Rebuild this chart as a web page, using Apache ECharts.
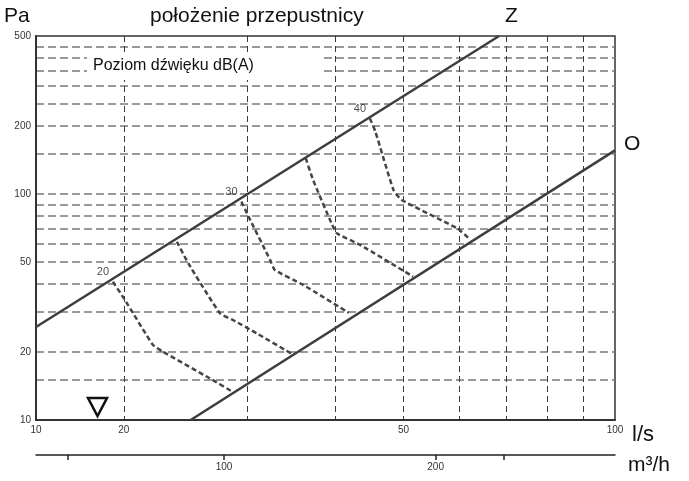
<!DOCTYPE html>
<html>
<head>
<meta charset="utf-8">
<script src="https://cdn.jsdelivr.net/npm/echarts@6/dist/echarts.min.js"></script>
<style>
html, body { margin: 0; padding: 0; background: #fff; }
#main { width: 689px; height: 481px; }
</style>
</head>
<body>
<div id="main"></div>
<script>
// axes (flow in l/s, pressure in Pa, second flow scale in m3/h)
var flowLabels = [15, 20, 50, 100];
var flowGrid = [20, 30, 40, 50, 60, 70, 80, 90];
var paLabels = [10, 20, 50, 100, 200, 500];
var paGrid = [15, 20, 30, 40, 50, 60, 70, 80, 90, 100, 150, 200, 250, 300, 350, 400, 450];
var m3hLabels = [100, 200];
var m3hTicks = [60, 100, 200, 250];

// damper positions: Z (closed) and O (open)
var lineZ = [[15, 25.8], [68.4, 500]];
var lineO = [[24.9, 10], [100, 156]];

// sound level curves dB(A)
var levels = [20, 25, 30, 35, 40];
var curve20 = [[19.3, 40.9], [20.0, 34.6], [22.0, 21.5], [22.7, 20.1], [26.5, 15.3], [28.6, 13.3]];
var curve25 = [[23.8, 61.5], [24.7, 49.4], [27.4, 29.7], [28.6, 27.7], [30.9, 24.2], [34.7, 19.6]];
var curve30 = [[29.4, 92.5], [30.1, 79.4], [32.3, 51.1], [32.8, 46.1], [36.0, 39.6], [41.8, 29.8]];
var curve35 = [[36.3, 144], [37.2, 115], [39.5, 74.2], [40.2, 67.0], [43.4, 59.5], [51.6, 43.1]];
var curve40 = [[44.8, 216], [45.6, 189], [48.4, 104], [49.7, 94.1], [59.6, 70.5], [62.0, 63.5]];
var curves = [curve20, curve25, curve30, curve35, curve40];

var narrow = "'Liberation Sans Narrow', 'Arial Narrow', 'Liberation Sans', sans-serif";
var sans = "'Liberation Sans', Arial, sans-serif";

var chartDom = document.getElementById("main");
var myChart = echarts.init(chartDom, null, { renderer: "canvas" });

var series = [
  {
    name: "Z",
    type: "line",
    data: lineZ,
    showSymbol: false,
    lineStyle: { color: "#3d3d3d", width: 2.5 },
    z: 5,
  },
  {
    name: "O",
    type: "line",
    data: lineO,
    showSymbol: false,
    lineStyle: { color: "#3d3d3d", width: 2.5 },
    z: 5,
  },
];

curves.forEach(function (c, i) {
  series.push({
    name: levels[i] + " dB",
    type: "line",
    data: c,
    showSymbol: false,
    smooth: 0.15,
    lineStyle: { color: "#454545", width: 2.5, type: [5, 3] },
    z: 4,
  });
});

// level labels at curve starts
var labelPts = [];
curves.forEach(function (c, i) {
  if (levels[i] % 10 === 0) {
    labelPts.push({ value: c[0], name: String(levels[i]) });
  }
});
series.push({
  type: "scatter",
  data: labelPts,
  symbolSize: 0,
  label: {
    show: true,
    position: "top",
    distance: 3,
    offset: [-10, -1],
    formatter: "{b}",
    fontFamily: narrow,
    fontSize: 11,
    color: "#222",
  },
  z: 6,
});

var option = {
  animation: false,
  grid: {
    left: 36,
    right: 74,
    top: 36,
    bottom: 61,
    show: true,
    borderColor: "#333",
    borderWidth: 1.5,
  },
  xAxis: [
    {
      type: "log",
      min: 15,
      max: 100,
      axisLine: { show: true, lineStyle: { color: "#333", width: 2 } },
      axisTick: { show: false, customValues: flowGrid },
      axisLabel: {
        customValues: flowLabels,
        formatter: function (v) {
          return v === 15 ? "10" : String(v);
        },
        fontFamily: narrow,
        fontSize: 10,
        color: "#333",
        margin: 5,
      },
      splitLine: {
        show: true,
        lineStyle: { color: "#3a3a3a", width: 1, type: [6, 4] },
      },
    },
    {
      type: "log",
      min: 54,
      max: 360,
      position: "bottom",
      offset: 35,
      axisLine: { show: true, lineStyle: { color: "#222", width: 1.5 } },
      axisTick: { show: true, customValues: m3hTicks, length: 5, lineStyle: { color: "#222", width: 1.5 } },
      axisLabel: {
        customValues: m3hLabels,
        fontFamily: narrow,
        fontSize: 10,
        color: "#333",
        margin: 7,
      },
      splitLine: { show: false },
    },
  ],
  yAxis: {
    type: "log",
    min: 10,
    max: 500,
    axisLine: { show: true, lineStyle: { color: "#333", width: 2 } },
    axisTick: { show: false, customValues: paGrid },
    axisLabel: {
      customValues: paLabels,
      fontFamily: narrow,
      fontSize: 10,
      color: "#333",
      margin: 5,
    },
    splitLine: {
      show: true,
      lineStyle: { color: "#7a7a7a", width: 1.5, type: [8, 4] },
    },
  },
  series: series,
  graphic: [
    { type: "text", left: 4, top: 6, z: 20, style: { text: "Pa", font: "21px " + sans, fill: "#111" } },
    { type: "text", left: 150, top: 6, z: 20, style: { text: "położenie przepustnicy", font: "21px " + sans, fill: "#111" } },
    { type: "text", left: 505, top: 6, z: 20, style: { text: "Z", font: "21px " + sans, fill: "#111" } },
    { type: "text", left: 624, top: 134, z: 20, style: { text: "O", font: "21px " + sans, fill: "#111" } },
    { type: "text", left: 632, top: 424, z: 20, style: { text: "l/s", font: "22px " + sans, fill: "#111" } },
    { type: "text", left: 628, top: 455, z: 20, style: { text: "m³/h", font: "21px " + sans, fill: "#111" } },
    { type: "rect", z: 19, shape: { x: 87, y: 54, width: 235, height: 26 }, style: { fill: "#fff" } },
    { type: "text", left: 93, top: 58, z: 20, style: { text: "Poziom dźwięku dB(A)", font: "16px " + sans, fill: "#111" } },
    {
      type: "polygon",
      z: 20,
      shape: { points: [[88, 398], [107, 398], [97.5, 416]] },
      style: { fill: "none", stroke: "#111", lineWidth: 2.5 },
    },
  ],
};

option && myChart.setOption(option);
</script>
</body>
</html>
